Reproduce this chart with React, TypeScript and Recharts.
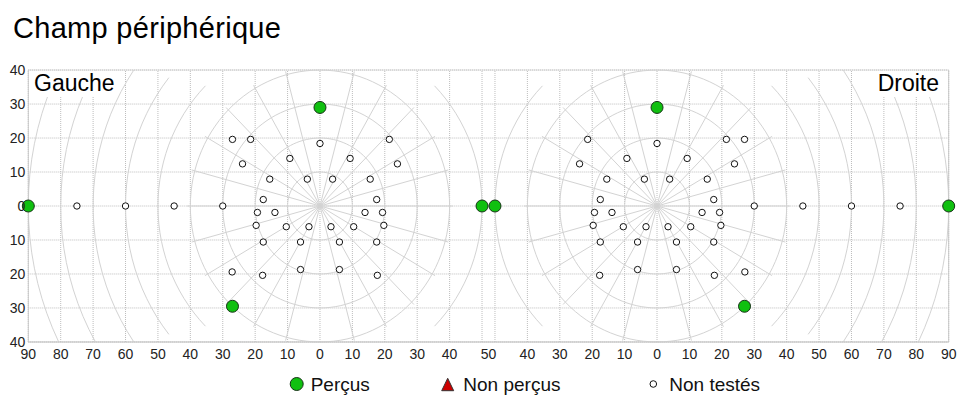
import React from 'react';
import {
  ComposedChart,
  XAxis,
  YAxis,
  CartesianGrid,
  ReferenceLine,
  Line,
  Scatter,
} from 'recharts';

const FONT = '"Liberation Sans", Arial, Helvetica, sans-serif';

// x of the right eye centre, in the units of the left eye
const RIGHT_CENTER = 104;

// Perçus (green) — eye coordinates: x in degrees (negative = left), y in degrees
const leftSeen = [
  { x: -90, y: 0 },
  { x: 0, y: 29 },
  { x: -27, y: -29.5 },
  { x: 50, y: 0 },
];
const rightSeen = [
  { x: -50, y: 0 },
  { x: 0, y: 29 },
  { x: 27, y: -29.5 },
  { x: 90, y: 0 },
];

// Non perçus (none on this exam)
const leftMissed: { x: number; y: number }[] = [];
const rightMissed: { x: number; y: number }[] = [];

// Non testés
const leftUntested = [
  { x: -75, y: 0 }, { x: -60, y: 0 }, { x: -45, y: 0 }, { x: -30, y: 0 },
  { x: -27, y: 19.6 }, { x: -21.4, y: 19.6 }, { x: 0, y: 18.4 }, { x: 21.4, y: 19.6 },
  { x: -23.9, y: 12.4 }, { x: -9.3, y: 14 }, { x: 9.3, y: 14 }, { x: 23.9, y: 12.4 },
  { x: -15.5, y: 7.9 }, { x: -3.9, y: 7.9 }, { x: 3.9, y: 7.9 }, { x: 15.5, y: 7.9 },
  { x: -17.5, y: 1.9 }, { x: 17.5, y: 1.9 },
  { x: -19.3, y: -1.9 }, { x: -13.9, y: -1.9 }, { x: 13.9, y: -1.9 }, { x: 19.3, y: -1.9 },
  { x: -19.7, y: -5.7 }, { x: -10.4, y: -6.1 }, { x: -3.4, y: -6.1 }, { x: 3.4, y: -6.1 }, { x: 10.4, y: -6.1 }, { x: 19.7, y: -5.7 },
  { x: -17.5, y: -10.6 }, { x: -6, y: -10.6 }, { x: 6, y: -10.6 }, { x: 17.5, y: -10.6 },
  { x: -27.1, y: -19.4 }, { x: -17.7, y: -20.4 }, { x: -6, y: -18.7 }, { x: 6, y: -18.7 }, { x: 17.7, y: -20.4 },
];
const rightUntested = [
  { x: 75, y: 0 }, { x: 60, y: 0 }, { x: 45, y: 0 }, { x: 30, y: 0 },
  { x: 27, y: 19.6 }, { x: 21.4, y: 19.6 }, { x: 0, y: 18.4 }, { x: -21.4, y: 19.6 },
  { x: 23.9, y: 12.4 }, { x: 9.3, y: 14 }, { x: -9.3, y: 14 }, { x: -23.9, y: 12.4 },
  { x: 15.5, y: 7.9 }, { x: 3.9, y: 7.9 }, { x: -3.9, y: 7.9 }, { x: -15.5, y: 7.9 },
  { x: 17.5, y: 1.9 }, { x: -17.5, y: 1.9 },
  { x: 19.3, y: -1.9 }, { x: 13.9, y: -1.9 }, { x: -13.9, y: -1.9 }, { x: -19.3, y: -1.9 },
  { x: 19.7, y: -5.7 }, { x: 10.4, y: -6.1 }, { x: 3.4, y: -6.1 }, { x: -3.4, y: -6.1 }, { x: -10.4, y: -6.1 }, { x: -19.7, y: -5.7 },
  { x: 17.5, y: -10.6 }, { x: 6, y: -10.6 }, { x: -6, y: -10.6 }, { x: -17.5, y: -10.6 },
  { x: 27.1, y: -19.4 }, { x: 17.7, y: -20.4 }, { x: 6, y: -18.7 }, { x: -6, y: -18.7 }, { x: -17.7, y: -20.4 },
];

// axis ticks
const xTickValues = [-90, -80, -70, -60, -50, -40, -30, -20, -10, 0, 10, 20, 30, 40, 52, 64, 74, 84, 94, 104, 114, 124, 134, 144, 154, 164, 174, 184, 194];
const xTickLabels = ['90', '80', '70', '60', '50', '40', '30', '20', '10', '0', '10', '20', '30', '40', '50', '40', '30', '20', '10', '0', '10', '20', '30', '40', '50', '60', '70', '80', '90'];
const yTicks = [-40, -30, -20, -10, 0, 10, 20, 30, 40];

// square grid lines of each eye (eye coordinates)
const leftGridX = [-90, -80, -70, -60, -50, -40, -30, -20, -10, 0, 10, 20, 30, 40, 50];
const rightGridX = [-50, -40, -30, -20, -10, 0, 10, 20, 30, 40, 50, 60, 70, 80, 90];

// polar grid
const fullCircles = [10, 20, 30, 40];
const sideArcs = [50, 60, 70, 80, 90]; // on the outer side
const sideArcHalfAngle = [45, 39, 34.8, 30, 26.4];
const innerArc = 50;
const innerArcHalfAngle = 45;
const spokeAngles = [0, 15, 30, 45, 60, 75, 90, 105, 120, 135, 150, 165, 180, 195, 210, 225, 240, 255, 270, 285, 300, 315, 330, 345];
const spokeLength = 41;

const GRID = '#bdbdbd';
const POLAR = '#d3d3d3';

const arc = (cx: number, r: number, from: number, to: number) => {
  const pts = [];
  const steps = Math.max(12, Math.round((to - from) / 3));
  for (let i = 0; i <= steps; i++) {
    const a = ((from + ((to - from) * i) / steps) * Math.PI) / 180;
    pts.push({ x: cx + r * Math.cos(a), y: r * Math.sin(a) });
  }
  return pts;
};

const shift = (pts: { x: number; y: number }[], dx: number) => pts.map(p => ({ x: p.x + dx, y: p.y }));

const SeenDot = (p: any) => <circle cx={p.cx} cy={p.cy} r={6} fill="#10c010" stroke="#173317" strokeWidth={1} />;
const MissedDot = (p: any) => (
  <polygon points={`${p.cx},${p.cy - 6} ${p.cx + 6},${p.cy + 5} ${p.cx - 6},${p.cy + 5}`} fill="#cc0000" stroke="#333" strokeWidth={1} />
);
const UntestedDot = (p: any) => <circle cx={p.cx} cy={p.cy} r={3.2} fill="#fff" stroke="#111" strokeWidth={1} />;

export default function App() {
  const eyes = [
    { cx: 0, side: -1 },
    { cx: RIGHT_CENTER, side: 1 },
  ];

  const arcLines: { key: string; data: { x: number; y: number }[] }[] = [];
  eyes.forEach((eye, e) => {
    fullCircles.forEach(r => arcLines.push({ key: `c${e}-${r}`, data: arc(eye.cx, r, 0, 360) }));
    sideArcs.forEach((r, i) => {
      const mid = eye.side < 0 ? 180 : 0;
      arcLines.push({ key: `s${e}-${r}`, data: arc(eye.cx, r, mid - sideArcHalfAngle[i], mid + sideArcHalfAngle[i]) });
    });
    const inner = eye.side < 0 ? 0 : 180;
    arcLines.push({ key: `i${e}`, data: arc(eye.cx, innerArc, inner - innerArcHalfAngle, inner + innerArcHalfAngle) });
  });

  const labelBox: React.CSSProperties = {
    position: 'absolute',
    top: 71,
    height: 26,
    background: '#fff',
    fontFamily: FONT,
    fontSize: 23,
    lineHeight: '23px',
    color: '#000',
  };

  return (
    <div style={{ position: 'absolute', left: 0, top: 0, width: 977, height: 414, background: '#fff', fontFamily: FONT }}>
      <ComposedChart width={977} height={414} margin={{ top: 70, right: 2.3, bottom: 42, left: 8.3 }}>
        <CartesianGrid vertical={false} yAxisId="l" stroke={GRID} strokeDasharray="1 1" />
        {leftGridX.map(v => (
          <ReferenceLine key={`gl${v}`} x={v} yAxisId="l" stroke={GRID} strokeDasharray="1 1" />
        ))}
        {rightGridX.map(v => (
          <ReferenceLine key={`gr${v}`} x={v + RIGHT_CENTER} yAxisId="l" stroke={GRID} strokeDasharray="1 1" />
        ))}
        {eyes.map((eye, e) =>
          spokeAngles.map(a => (
            <ReferenceLine
              key={`sp${e}-${a}`}
              yAxisId="l"
              stroke={POLAR}
              segment={[
                { x: eye.cx, y: 0 },
                { x: eye.cx + spokeLength * Math.cos((a * Math.PI) / 180), y: spokeLength * Math.sin((a * Math.PI) / 180) },
              ]}
            />
          ))
        )}
        {arcLines.map(l => (
          <Line
            key={l.key}
            data={l.data}
            dataKey="y"
            yAxisId="l"
            type="linear"
            stroke={POLAR}
            strokeWidth={1}
            dot={false}
            activeDot={false}
            isAnimationActive={false}
          />
        ))}
        <XAxis
          type="number"
          dataKey="x"
          domain={[-90, 194]}
          ticks={xTickValues}
          interval={0}
          tickFormatter={(v: number, i: number) => xTickLabels[i]}
          tickLine={false}
          tickSize={0}
          tickMargin={7}
          height={30}
          axisLine={{ stroke: '#c8c8c8' }}
          tick={{ fontSize: 14, fill: '#222', fontFamily: FONT }}
        />
        <YAxis
          yAxisId="l"
          type="number"
          dataKey="y"
          domain={[-40, 40]}
          ticks={yTicks}
          interval={0}
          tickFormatter={(v: number) => String(Math.abs(v))}
          tickLine={false}
          tickSize={0}
          tickMargin={3}
          width={20}
          axisLine={{ stroke: '#c8c8c8' }}
          tick={{ fontSize: 14, fill: '#222', fontFamily: FONT }}
        />
        <YAxis
          yAxisId="r"
          orientation="right"
          type="number"
          dataKey="y"
          domain={[-40, 40]}
          ticks={yTicks}
          interval={0}
          tickFormatter={(v: number) => String(Math.abs(v))}
          tickLine={false}
          tickSize={0}
          tickMargin={4}
          width={26}
          axisLine={{ stroke: '#c8c8c8' }}
          tick={{ fontSize: 14, fill: '#222', fontFamily: FONT }}
        />
        <Scatter yAxisId="l" name="Non testés" data={leftUntested} shape={UntestedDot} isAnimationActive={false} />
        <Scatter yAxisId="l" name="Non testés" data={shift(rightUntested, RIGHT_CENTER)} shape={UntestedDot} isAnimationActive={false} />
        <Scatter yAxisId="l" name="Non perçus" data={leftMissed} shape={MissedDot} isAnimationActive={false} />
        <Scatter yAxisId="l" name="Non perçus" data={shift(rightMissed, RIGHT_CENTER)} shape={MissedDot} isAnimationActive={false} />
        <Scatter yAxisId="l" name="Perçus" data={leftSeen} shape={SeenDot} isAnimationActive={false} />
        <Scatter yAxisId="l" name="Perçus" data={shift(rightSeen, RIGHT_CENTER)} shape={SeenDot} isAnimationActive={false} />
      </ComposedChart>

      {/* title */}
      <div style={{ position: 'absolute', left: 13, top: 13.5, fontSize: 29, lineHeight: '29px', letterSpacing: 0.3, color: '#000', whiteSpace: 'nowrap' }}>
        Champ périphérique
      </div>

      {/* eye labels, on white boxes */}
      <div style={{ ...labelBox, left: 29, width: 89 }}>
        <span style={{ position: 'absolute', left: 5, top: 1.2 }}>Gauche</span>
      </div>
      <div style={{ ...labelBox, left: 870, width: 77 }}>
        <span style={{ position: 'absolute', right: 8, top: 1.2 }}>Droite</span>
      </div>

      {/* legend */}
      <svg width={977} height={40} style={{ position: 'absolute', left: 0, top: 366 }}>
        <circle cx={296.7} cy={18} r={6.5} fill="#10c010" stroke="#173317" strokeWidth={1} />
        <text x={310.7} y={25.3} fontSize={19} fontFamily={FONT} fill="#111">Perçus</text>
        <polygon points="447.7,12.3 453.7,24.7 441.7,24.7" fill="#cc0000" stroke="#333" strokeWidth={1} />
        <text x={463.3} y={25.3} fontSize={19} fontFamily={FONT} fill="#111">Non perçus</text>
        <circle cx={653.3} cy={18} r={3.3} fill="#fff" stroke="#111" strokeWidth={1} />
        <text x={669.3} y={25.3} fontSize={19} fontFamily={FONT} fill="#111">Non testés</text>
      </svg>
    </div>
  );
}
